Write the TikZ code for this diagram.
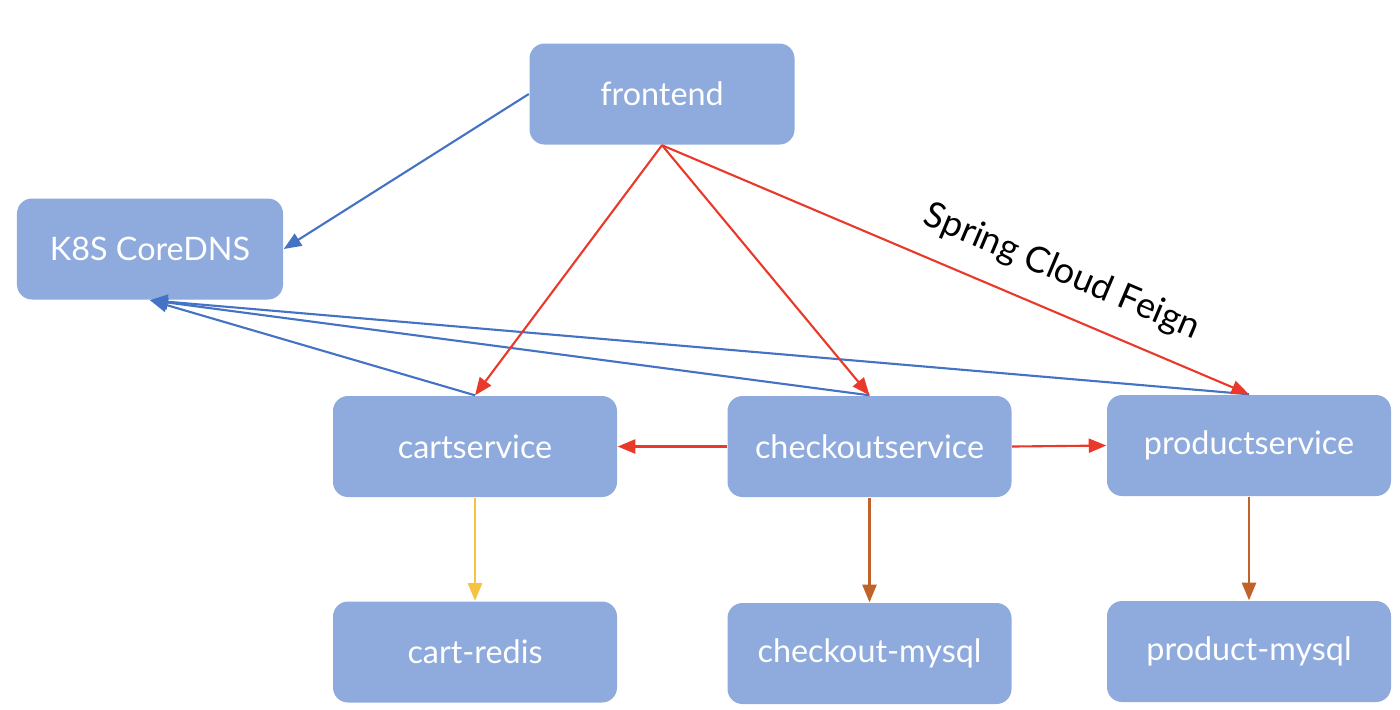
\documentclass[tikz,border=0pt]{standalone}
\usepackage{fontspec}
\setmainfont{Lato}
\usepackage{tikz}
\usepackage{xcolor}
\usetikzlibrary{arrows.meta}
\definecolor{BleuBoite}{HTML}{8FAADC}
\definecolor{BleuLien}{HTML}{4472C4}
\definecolor{RougeLien}{HTML}{E8392A}
\definecolor{JauneLien}{HTML}{F5C242}
\definecolor{BrunLien}{HTML}{C0622A}
\tikzset{
Boite/.style={
 rectangle,
 rounded corners=0.15cm,
 fill=BleuBoite,
 text=white,
 font=\fontsize{9.2pt}{11pt}\selectfont,
 minimum width=2.84cm,
 minimum height=1.01cm,
 inner sep=0pt
 },
BFleche/.style={
 draw=BleuLien,
 line width=0.6pt,
 -{Triangle[length=5pt,width=4pt]}
 },
RFleche/.style={
 draw=RougeLien,
 line width=0.6pt,
 -{Triangle[length=5pt,width=4pt]}
 },
JFleche/.style={
 draw=JauneLien,
 line width=0.6pt,
 -{Triangle[length=5pt,width=4pt]}
 },
MFleche/.style={
 draw=BrunLien,
 line width=0.6pt,
 -{Triangle[length=5pt,width=4pt]}
 }
}
\begin{document}
\begin{tikzpicture}
\useasboundingbox (0,0) rectangle (14,-7.09);
\node[Boite,minimum width=2.65cm] (frontend) at (6.62,-0.94) {frontend};
\node[Boite,minimum width=2.66cm] (dns) at (1.50,-2.49) {K8S CoreDNS};
\node[Boite] (cart) at (4.75,-4.465) {cartservice};
\node[Boite] (checkout) at (8.695,-4.465) {checkoutservice};
\node[Boite] (product) at (12.49,-4.455) {productservice};
\node[Boite] (redis) at (4.75,-6.52) {cart-redis};
\node[Boite] (cmysql) at (8.695,-6.535) {checkout-mysql};
\node[Boite] (pmysql) at (12.49,-6.515) {product-mysql};
% DNS
\draw[BFleche] (frontend.west) -- (dns.east);
\draw[BFleche] (cart.north) -- (dns.south);
\draw[BFleche] (checkout.north) -- (dns.south);
\draw[BFleche] (product.north) -- (dns.south);
% appels
\draw[RFleche] (frontend.south) -- (cart.north);
\draw[RFleche] (frontend.south) -- (checkout.north);
\draw[RFleche] (frontend.south) -- node[sloped,above=0.1cm,pos=0.655,text=black,font=\fontsize{10.2pt}{12pt}\selectfont] (feign) {Spring Cloud Feign} (product.north);
\draw[RFleche] (checkout.west) -- (cart.east);
\draw[RFleche] (checkout.east) -- (product.west);
% stockage
\draw[JFleche] (cart.south) -- (redis.north);
\draw[MFleche] (checkout.south) -- (cmysql.north);
\draw[MFleche] (product.south) -- (pmysql.north);
\end{tikzpicture}
\end{document}
